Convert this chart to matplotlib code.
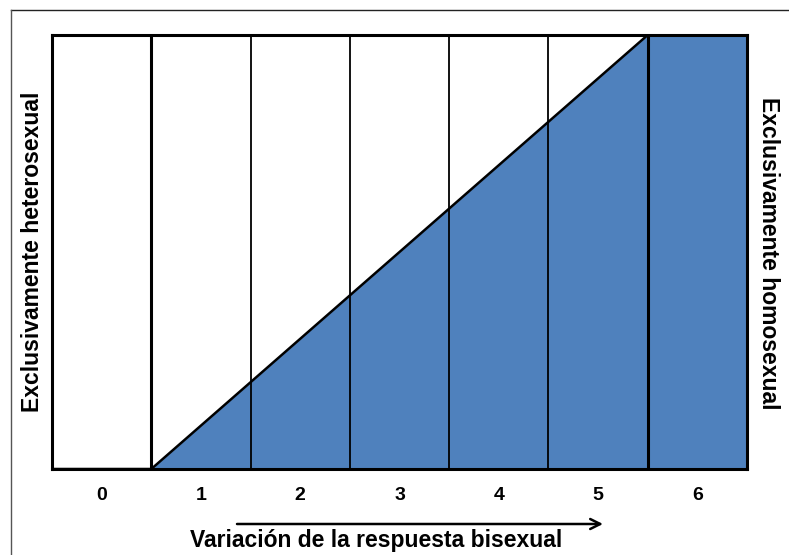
import numpy as np
import matplotlib.pyplot as plt
from matplotlib.lines import Line2D

plt.rcParams['font.family'] = ['Liberation Sans', 'DejaVu Sans']

# Kinsey scale: 7 categories, share of homosexual response at each column boundary
categories = ['0', '1', '2', '3', '4', '5', '6']
boundaries = [0, 1, 2, 3, 4, 5, 6, 7]
homo_share = [0, 0, 0.2, 0.4, 0.6, 0.8, 1, 1]

blue = '#4F81BD'

fig = plt.figure(figsize=(7.89, 5.55), dpi=100)
ax = fig.add_axes([52/789, 86/555, 695/789, 434/555])

ax.fill_between(boundaries, homo_share, 0, color=blue, linewidth=0)
ax.plot(boundaries, homo_share, color='black', lw=1.8, solid_capstyle='butt')

# column dividers
for b in boundaries[1:-1]:
    lw = 2.2 if b in (1, 6) else 1.3
    ax.axvline(b, color='black', lw=lw)

ax.set_xlim(0, 7)
ax.set_ylim(0, 1)
ax.set_xticks([])
ax.set_yticks([])
for s in ax.spines.values():
    s.set_linewidth(2.2)

for i, c in enumerate(categories):
    ax.text(i + 0.5, -0.062, c, ha='center', va='center', fontsize=14,
            fontweight='bold', clip_on=False)

ax.annotate('', xy=(603/789, 31/555), xytext=(237/789, 31/555),
            xycoords='figure fraction', textcoords='figure fraction',
            arrowprops=dict(arrowstyle='->', lw=1.8, color='black',
                            mutation_scale=18, shrinkA=0, shrinkB=0))
fig.text(376/789, 14/555, 'Variación de la respuesta bisexual', ha='center',
         va='center', fontsize=16.5, fontweight='bold')
fig.text(33/789, 303/555, 'Exclusivamente heterosexual', ha='center',
         va='center', rotation=90, fontsize=16.5, fontweight='bold')
fig.text(769/789, 302/555, 'Exclusivamente homosexual', ha='center',
         va='center', rotation=-90, fontsize=16.5, fontweight='bold')

# partial outer frame (top and left edges)
fig.add_artist(Line2D([11/789, 1], [545/555, 545/555], color='#222222', lw=1))
fig.add_artist(Line2D([11/789, 11/789], [0, 545/555], color='#555555', lw=1))

fig.savefig('out.png', dpi=100)
